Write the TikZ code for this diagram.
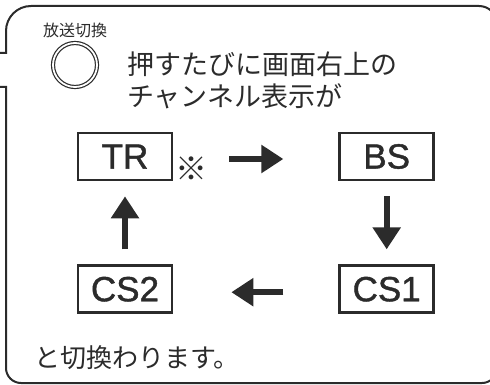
\documentclass[tikz,border=0pt]{standalone}
\usepackage{fontspec}
\setmainfont{Noto Sans CJK JP}
\newfontfamily\latinfont[FakeBold=1.2]{Liberation Sans}
\usepackage{xcolor}
\usetikzlibrary{arrows.meta, positioning}
\definecolor{ink}{HTML}{2B2B2B}

\begin{document}
\begin{tikzpicture}[
    x=1pt, y=-1pt,
    frameline/.style={draw=ink, line width=2pt},
    chbox/.style={rectangle, draw=ink, line width=2.7pt, minimum width=94pt, minimum height=47pt, inner sep=0pt, font=\latinfont\fontsize{35}{35}\selectfont},
    bigarrow/.style={draw=ink, line width=6pt, -{Triangle[length=22pt, width=27pt]}},
    every node/.style={text=ink}
  ]
  \clip (0,0) rectangle (490,385);
  \draw[frameline] (0,53) -- (6,53) -- (6,31) arc[start angle=180, end angle=270, radius=25] -- (479,6)
    arc[start angle=270, end angle=360, radius=18] -- (497,368) arc[start angle=0, end angle=90, radius=15]
    -- (21,383) arc[start angle=90, end angle=180, radius=15] -- (6,87) -- (0,87);
  \node[font=\fontsize{16}{16}\selectfont] (chlabel) at (75,30) {放送切換};
  \node[circle, draw=ink, line width=1.2pt, double, double distance=1.8pt, minimum size=44pt, inner sep=0pt] (btn) at (75,65) {};
  \node[anchor=west, inner sep=0pt, font=\fontsize{27}{27}\selectfont] (msgA) at (127,64) {押すたびに画面右上の};
  \node[anchor=west, inner sep=0pt, font=\fontsize{27}{27}\selectfont] (msgB) at (127,96) {チャンネル表示が};
  \node[chbox] (tr) at (125,156.5) {TR};
  \node[chbox, right=165pt of tr] (bs) {BS};
  \node[chbox, below=83pt of bs] (cs1) {CS1};
  \node[chbox, below=83pt of tr] (cs2) {CS2};
  \node[inner sep=0pt, font=\fontsize{32}{32}\selectfont] (mark) at (191,169) {※};
  \draw[bigarrow, shorten <=56pt, shorten >=55pt] ([yshift=-2.5pt]tr.east) -- ([yshift=-2.5pt]bs.west);
  \draw[bigarrow, shorten <=15pt, shorten >=15pt] (bs) -- (cs1);
  \draw[bigarrow, shorten <=55pt, shorten >=58pt] ([yshift=-3pt]cs1.west) -- ([yshift=-3pt]cs2.east);
  \draw[bigarrow, shorten <=15pt, shorten >=15pt] (cs2) -- (tr);
  \node[anchor=west, inner sep=0pt, font=\fontsize{26}{26}\selectfont] (tail) at (34,358) {と切換わります。};
\end{tikzpicture}
\end{document}
